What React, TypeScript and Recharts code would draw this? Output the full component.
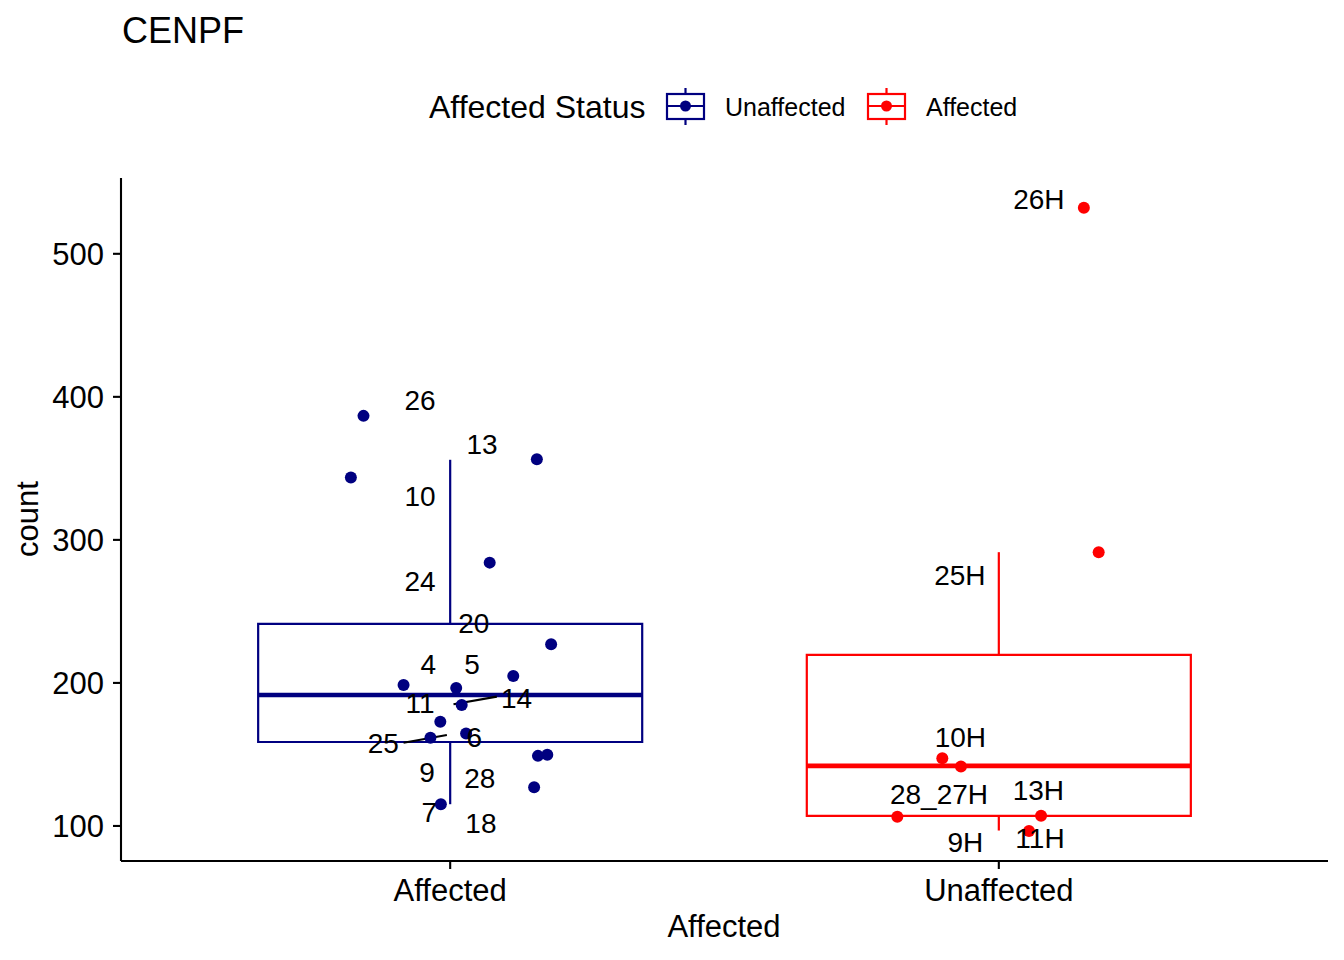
import {
  ComposedChart,
  Scatter,
  XAxis,
  YAxis,
  ReferenceArea,
  ReferenceLine,
} from "recharts";

const FONT = "'Liberation Sans', Arial, Helvetica, sans-serif";

const groups = ["Affected", "Unaffected"];
const groupColors = ["#000080", "#FF0000"];

// box statistics per group
const boxLower = [115.2, 96.8];
const boxQ1 = [158.7, 107.0];
const boxMedian = [191.6, 142.0];
const boxQ3 = [241.3, 219.6];
const boxUpper = [356.0, 291.4];

// jittered points (offset from the group centre, count)
const affectedJitter = [
  -0.158, -0.181, 0.158, 0.072, 0.184, 0.115, -0.085, 0.011, 0.021, -0.018,
  -0.036, 0.029, 0.16, 0.177, 0.153, -0.017,
];
const affectedCount = [
  386.7, 343.6, 356.4, 284.1, 227.1, 204.9, 198.6, 196.5, 184.6, 172.9, 161.7,
  164.7, 149.0, 149.7, 127.0, 115.2,
];
const unaffectedJitter = [0.155, 0.182, -0.103, -0.069, -0.185, 0.077, 0.055];
const unaffectedCount = [532.2, 291.4, 147.3, 141.5, 106.5, 107.2, 96.5];

// repelled labels
const affectedNames = [
  "26", "13", "10", "24", "20", "4", "5", "11", "14", "25", "6", "9", "28", "7", "18",
];
const affectedLabelX = [
  -0.055, 0.058, -0.055, -0.055, 0.043, -0.04, 0.04, -0.055, 0.121, -0.122,
  0.044, -0.042, 0.054, -0.038, 0.056,
];
const affectedLabelY = [
  397.9, 367.1, 330.8, 271.3, 242.2, 213.1, 213.1, 186, 189.3, 158, 162.5, 138,
  133.4, 110, 101.9,
];
const unaffectedNames = ["26H", "25H", "10H", "28_27H", "13H", "9H", "11H"];
const unaffectedLabelX = [0.073, -0.071, -0.07, -0.109, 0.072, -0.061, 0.075];
const unaffectedLabelY = [538.5, 275.5, 162, 122.4, 125.2, 89, 91.4];

// label connector segments [x1, y1, x2, y2]
const segments = [
  [1.006, 185.1, 1.085, 190.4],
  [0.915, 158.2, 0.994, 163.6],
];

const yTicks = [100, 200, 300, 400, 500];
const legendLabels = ["Unaffected", "Affected"];

const affectedPoints = affectedCount.map((count, i) => ({
  x: 1 + affectedJitter[i],
  count,
}));
const unaffectedPoints = unaffectedCount.map((count, i) => ({
  x: 2 + unaffectedJitter[i],
  count,
}));
const labelRows = [
  ...affectedNames.map((name, i) => ({
    x: 1 + affectedLabelX[i],
    count: affectedLabelY[i],
    name,
  })),
  ...unaffectedNames.map((name, i) => ({
    x: 2 + unaffectedLabelX[i],
    count: unaffectedLabelY[i],
    name,
  })),
];

const dot = (color: string) => (props: any) =>
  <circle cx={props.cx} cy={props.cy} r={6} fill={color} />;

const labelShape = (props: any) => (
  <text
    x={props.cx}
    y={props.cy}
    dy="0.36em"
    textAnchor="middle"
    fontSize={28}
    fontFamily={FONT}
    fill="#000"
  >
    {props.payload.name}
  </text>
);

function BoxKey({ x, color }: { x: number; color: string }) {
  const mid = x + 18.5;
  return (
    <g>
      <line x1={mid} x2={mid} y1={88} y2={94} stroke={color} strokeWidth={2.2} />
      <line x1={mid} x2={mid} y1={119} y2={125} stroke={color} strokeWidth={2.2} />
      <rect x={x} y={94} width={37} height={25} fill="none" stroke={color} strokeWidth={2.2} />
      <line x1={x} x2={x + 37} y1={106} y2={106} stroke={color} strokeWidth={2.2} />
      <circle cx={mid} cy={106} r={5.5} fill={color} />
    </g>
  );
}

export default function App() {
  const axisStyle = { stroke: "#000", strokeWidth: 2.1 };
  return (
    <div style={{ position: "relative", width: 1344, height: 960 }}>
      <style>{"body{margin:0}"}</style>
      <ComposedChart
        width={1344}
        height={960}
        margin={{ top: 178, right: 16, bottom: 0, left: 0 }}
      >
        <XAxis
          type="number"
          dataKey="x"
          domain={[0.4, 2.6]}
          ticks={[1, 2]}
          allowDataOverflow
          tickFormatter={(v) => groups[v - 1]}
          height={99}
          axisLine={axisStyle}
          tickLine={axisStyle}
          tickSize={8}
          tickMargin={10}
          tick={{ fontSize: 31, fill: "#000", fontFamily: FONT }}
        />
        <YAxis
          type="number"
          dataKey="count"
          domain={[75.5, 553]}
          ticks={yTicks}
          allowDataOverflow
          width={121}
          axisLine={axisStyle}
          tickLine={axisStyle}
          tickSize={8}
          tickMargin={9}
          tick={{ fontSize: 31, fill: "#000", fontFamily: FONT }}
        />
        {groups.map((g, i) => {
          const c = i + 1;
          const color = groupColors[i];
          return [
            <ReferenceLine
              key={g + "-up"}
              segment={[{ x: c, y: boxQ3[i] }, { x: c, y: boxUpper[i] }]}
              stroke={color}
              strokeWidth={2.2}
            />,
            <ReferenceLine
              key={g + "-lo"}
              segment={[{ x: c, y: boxLower[i] }, { x: c, y: boxQ1[i] }]}
              stroke={color}
              strokeWidth={2.2}
            />,
            <ReferenceArea
              key={g + "-box"}
              x1={c - 0.35}
              x2={c + 0.35}
              y1={boxQ1[i]}
              y2={boxQ3[i]}
              fill="none"
              stroke={color}
              strokeWidth={2.2}
              strokeOpacity={1}
            />,
            <ReferenceLine
              key={g + "-med"}
              segment={[
                { x: c - 0.35, y: boxMedian[i] },
                { x: c + 0.35, y: boxMedian[i] },
              ]}
              stroke={color}
              strokeWidth={4.6}
            />,
          ];
        })}
        <Scatter
          data={affectedPoints}
          shape={dot(groupColors[0])}
          isAnimationActive={false}
        />
        <Scatter
          data={unaffectedPoints}
          shape={dot(groupColors[1])}
          isAnimationActive={false}
        />
        {segments.map((s, i) => (
          <ReferenceLine
            key={"seg" + i}
            segment={[{ x: s[0], y: s[1] }, { x: s[2], y: s[3] }]}
            stroke="#000"
            strokeWidth={2.2}
          />
        ))}
        <Scatter data={labelRows} shape={labelShape} isAnimationActive={false} />
      </ComposedChart>
      <svg
        width={1344}
        height={960}
        style={{ position: "absolute", left: 0, top: 0, pointerEvents: "none" }}
        fontFamily={FONT}
      >
        <text x={122} y={43} fontSize={36} fill="#000">
          CENPF
        </text>
        <text x={429} y={118} fontSize={32} fill="#000">
          Affected Status
        </text>
        <BoxKey x={667} color={groupColors[0]} />
        <text x={725} y={116} fontSize={25} fill="#000">
          {legendLabels[0]}
        </text>
        <BoxKey x={868} color={groupColors[1]} />
        <text x={926} y={116} fontSize={25} fill="#000">
          {legendLabels[1]}
        </text>
        <text x={724} y={937} fontSize={31} textAnchor="middle" fill="#000">
          Affected
        </text>
        <text
          transform="translate(37.5,519) rotate(-90)"
          fontSize={31}
          textAnchor="middle"
          fill="#000"
        >
          count
        </text>
      </svg>
    </div>
  );
}
